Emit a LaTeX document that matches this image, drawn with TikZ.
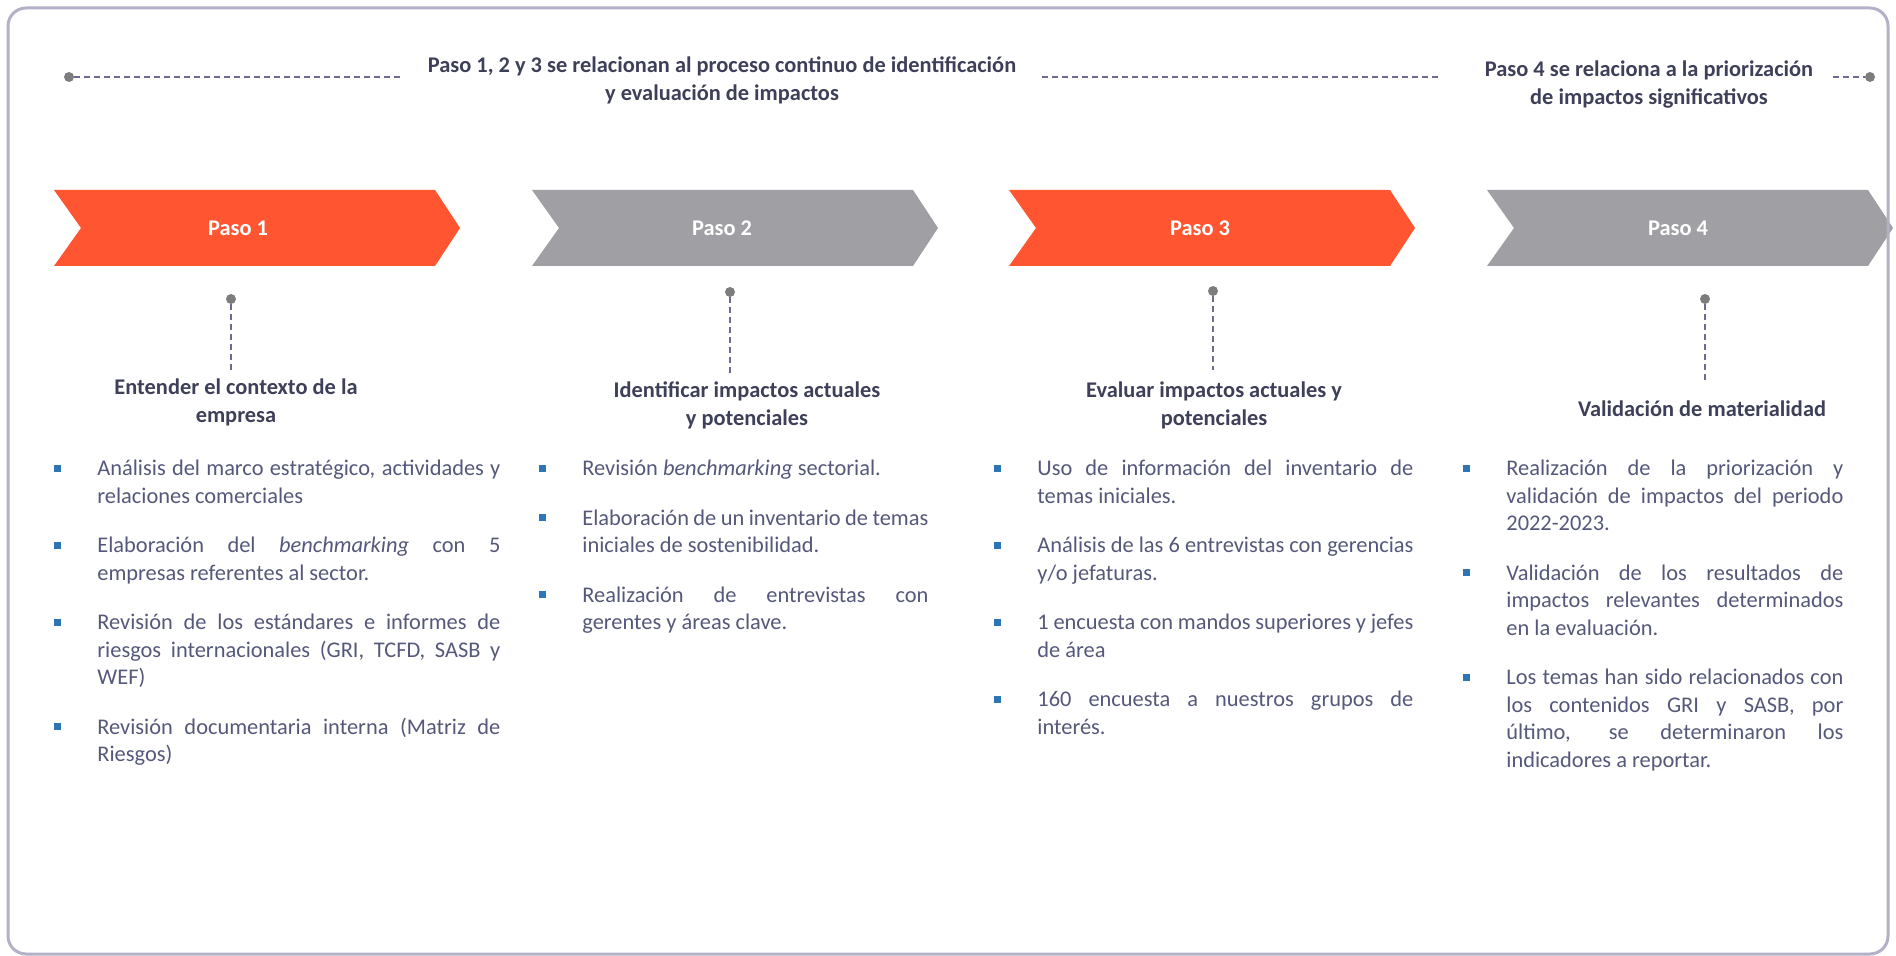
\documentclass[tikz,border=0pt]{standalone}
\usepackage{fontspec}
\setmainfont{Carlito}
\usepackage{xcolor}
\definecolor{pasorange}{RGB}{255,85,48}
\definecolor{pasogrey}{RGB}{160,159,164}
\definecolor{headtext}{RGB}{62,63,88}
\definecolor{bodytext}{RGB}{85,88,122}
\definecolor{dashline}{RGB}{110,106,148}
\definecolor{dotgrey}{RGB}{125,125,125}
\definecolor{framegrey}{RGB}{178,177,200}
\definecolor{bulletblue}{RGB}{46,117,182}

\newcommand{\pasosetup}{\parskip=11pt\relax\hyphenpenalty=10000\relax\exhyphenpenalty=10000\relax\emergencystretch=1em\relax}
\newcommand{\pasobullet}{\noindent\makebox[0pt][r]{\textcolor{bulletblue}{\rule[2pt]{3.5pt}{3.5pt}}\hspace*{18pt}}}

\begin{document}
\begin{tikzpicture}[x=0.5pt, y=-0.5pt,
    pasodot/.style={circle, fill=dotgrey, inner sep=0pt, minimum size=5pt},
    dashconn/.style={dashline, line width=1pt, dash pattern=on 3pt off 2pt},
    toptext/.style={headtext, font=\bfseries\fontsize{11.2}{14}\selectfont, align=center},
    pasohead/.style={headtext, font=\bfseries\fontsize{11.2}{14}\selectfont, align=center},
    pasolabel/.style={white, font=\bfseries\fontsize{11.2}{14}\selectfont},
    pasolist/.style={bodytext, anchor=base west, inner sep=0pt, align=justify,
      font=\fontsize{11.2}{13.75}\selectfont}]
    \useasboundingbox (0,0) rectangle (1896,956);

    % Top row: dashed guides and texts
    \node[pasodot] (topdotL) at (69,77) {};
    \coordinate (topL) at (402,77);
    \draw[dashconn] (topdotL) -- (topL);
    \node[toptext] (top123) at (722,80) {Paso 1, 2 y 3 se relacionan al proceso continuo de identificación\\y evaluación de impactos};
    \coordinate (topMa) at (1042,77);
    \coordinate (topMb) at (1439,77);
    \draw[dashconn] (topMa) -- (topMb);
    \node[toptext] (top4) at (1649,85) {Paso 4 se relaciona a la priorización\\de impactos significativos};
    \coordinate (topR) at (1833,77);
    \node[pasodot] (topdotR) at (1870,77) {};
    \draw[dashconn] (topR) -- (topdotR);

    % Chevrons
    \foreach \xl/\col in {54/pasorange, 532/pasogrey, 1009/pasorange, 1487/pasogrey} {
        \fill[\col] (\xl,190) -- ++(381,0) -- ++(25,38) -- ++(-25,38) -- ++(-381,0) -- ++(27,-38) -- cycle;
    }
    \foreach \i/\x in {1/238, 2/722, 3/1200, 4/1678} {
        \node[pasolabel] (paso\i) at (\x,228) {Paso \i};
    }

    % Vertical connectors under each step
    \foreach \i/\x/\ya/\yb in {1/231/299/373, 2/730/292/374, 3/1213/291/370, 4/1705/299/380} {
        \node[pasodot] (dot\i) at (\x,\ya) {};
        \coordinate (end\i) at (\x,\yb);
        \draw[dashconn] (dot\i) -- (end\i);
    }

    % Step headings
    \node[pasohead] (head1) at (236,402) {Entender el contexto de la\\empresa};
    \node[pasohead] (head2) at (747,405) {Identificar impactos actuales\\y potenciales};
    \node[pasohead] (head3) at (1214,405) {Evaluar impactos actuales y\\potenciales};
    \node[pasohead] (head4) at (1702,409) {Validación de materialidad};

    % Bullet lists
    \node[pasolist, text width=201.5pt] (list1) at (97,476) {\pasosetup
        \pasobullet Análisis del marco estratégico, actividades y\linebreak relaciones comerciales\par
        \pasobullet Elaboración del \textit{benchmarking} con 5\linebreak empresas referentes al sector.\par
        \pasobullet Revisión de los estándares e informes de\linebreak riesgos internacionales (GRI, TCFD, SASB y\linebreak WEF)\par
        \pasobullet Revisión documentaria interna (Matriz de\linebreak Riesgos)};
    \node[pasolist, text width=173pt] (list2) at (582,476) {\pasosetup
        \pasobullet Revisión \textit{benchmarking} sectorial.\par
        \pasobullet Elaboración de un inventario de temas\linebreak iniciales de sostenibilidad.\par
        \pasobullet Realización de entrevistas con\linebreak gerentes y áreas clave.};
    \node[pasolist, text width=188pt] (list3) at (1037,476) {\pasosetup
        \pasobullet Uso de información del inventario de\linebreak temas iniciales.\par
        \pasobullet Análisis de las 6 entrevistas con gerencias\linebreak y/o jefaturas.\par
        \pasobullet 1 encuesta con mandos superiores y jefes\linebreak de área\par
        \pasobullet 160 encuesta a nuestros grupos de\linebreak interés.};
    \node[pasolist, text width=168.5pt] (list4) at (1506,476) {\pasosetup
        \pasobullet Realización de la priorización y\linebreak validación de impactos del periodo\linebreak 2022-2023.\par
        \pasobullet Validación de los resultados de\linebreak impactos relevantes determinados\linebreak en la evaluación.\par
        \pasobullet Los temas han sido relacionados con\linebreak los contenidos GRI y SASB, por\linebreak último, se determinaron los\linebreak indicadores a reportar.};

    % Frame
    \draw[framegrey, line width=1.5pt, rounded corners=9pt] (8,8) rectangle (1888,954);
\end{tikzpicture}
\end{document}
